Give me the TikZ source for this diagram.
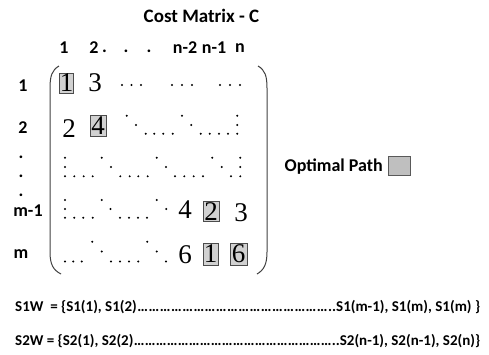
\documentclass[tikz,border=0pt]{standalone}
\usepackage{fontspec}
\setmainfont{Carlito}
\newfontfamily\tms{Liberation Serif}
\begin{document}
\begin{tikzpicture}[x=1pt,y=-1pt,
  lbl/.style={font=\fontsize{18}{20}\selectfont\bfseries, inner sep=0pt},
  seq/.style={font=\fontsize{15}{17}\selectfont\bfseries, inner sep=0pt},
  dig/.style={font=\fontsize{27}{28}\selectfont\tms, inner sep=0pt},
  pathbox/.style={dig, draw=black!70, fill=black!18, line width=0.8pt, minimum width=15pt, minimum height=21pt},
  paren/.style={draw=black!75, line width=1pt},
  dotmark/.style={fill=black}]
\useasboundingbox (0,0) rectangle (489,354);

% title
\node[lbl, font=\fontsize{19}{21}\selectfont\bfseries] (title) at (201.5,16) {Cost Matrix - C};

% column labels
\node[lbl] (c1) at (64,48) {1};
\node[lbl] (c2) at (94,48) {2};
\node[lbl] (cd1) at (104.5,51.5) {.};
\node[lbl] (cd2) at (126,51.5) {.};
\node[lbl] (cd3) at (149,51.5) {.};
\node[lbl] (cn2) at (185,48) {n-2};
\node[lbl] (cn1) at (214,48) {n-1};
\node[lbl] (cn) at (240,48) {n};

% row labels
\node[lbl] (r1) at (23,86) {1};
\node[lbl] (r2) at (23,127.5) {2};
\node[lbl] (rd1) at (21,157) {.};
\node[lbl] (rd2) at (21,176) {.};
\node[lbl] (rd3) at (21,195) {.};
\node[lbl] (rm1) at (28,211) {m-1};
\node[lbl] (rm) at (21,254) {m};

% matrix brackets
\draw[paren] (59,66) .. controls (52,70) and (50,76) .. (50,88) -- (50,252)
  .. controls (50,264) and (53,270) .. (61,274);
\draw[paren] (258,66) .. controls (265,70) and (267,76) .. (267,88) -- (267,252)
  .. controls (267,264) and (264,270) .. (257,274);

% entries on the optimal path
\node[pathbox, minimum width=13pt, minimum height=20pt] (e11) at (66.5,83) {1};
\node[pathbox, minimum width=16pt] (e22) at (98,125.5) {4};
\node[pathbox, minimum width=16pt, minimum height=20pt] (e4) at (211,211.7) {2};
\node[pathbox, minimum height=22pt] (e5a) at (210.5,254) {1};
\node[pathbox, minimum width=17pt, minimum height=22pt] (e5b) at (238.5,254) {6};

% other entries
\node[dig] (e12) at (95,83) {3};
\node[dig] (e21) at (69,128.5) {2};
\node[dig] (e43) at (185,210) {4};
\node[dig] (e45) at (241,212.5) {3};
\node[dig] (e53) at (185,254.5) {6};

% dot runs inside the matrix
\foreach \x in {122,131.5,141,172,182,192,220,230,240}
  \fill[dotmark] (\x,85) circle (1.1);
\foreach \x/\y in {126.7/115.7,136/125,145.7/133.7,154.3/133.7,163.3/133.7,172.7/133.7,
  182/115.7,191.3/125,200.7/133.7,209.7/133.7,219/133.7,228/133.7,237.3/133.7,237.3/125,237.3/115.7}
  \fill[dotmark] (\x,\y) circle (1.1);
\foreach \x/\y in {65/157.7,65/167,65/176.3,74.3/176.3,83.7/176.3,92.7/176.3,
  101.7/157.7,111/167,120.3/176.3,129.7/176.3,138.3/176.3,147.7/176.3,
  156.7/157.7,166/167,175/176.3,184.3/176.3,193.7/176.3,203/176.3,
  212.3/157.7,221.7/167,231/176.3,240.3/176.3,240.3/167,240.3/157.7}
  \fill[dotmark] (\x,\y) circle (1.1);
\foreach \x/\y in {65/200,65/209,65/217.7,74.3/217.7,83.3/217.7,92.7/217.7,
  101.7/200,110.5/209,120/217.7,129/217.7,138/217.7,147/217.7,
  156.7/200,166.3/209}
  \fill[dotmark] (\x,\y) circle (1.1);
\foreach \x/\y in {65/261.5,73.3/261.5,81.7/261.5,
  92.3/241.7,101.7/251.5,111/261.5,120/261.5,129/261.5,138.3/261.5,
  147.3/241.7,156.7/251.5,166/261.5}
  \fill[dotmark] (\x,\y) circle (1.1);

% legend
\node[lbl, anchor=east] (legtext) at (383,167) {Optimal Path};
\node[draw=black!65, fill=black!25, line width=0.8pt, minimum width=22pt, minimum height=19pt, inner sep=0pt] (legbox) at (399,165.5) {};

% warping sequences
\node[seq, anchor=west] (s1w) at (15,307)
  {\hbox to 465pt{S1W\ \ = \{S1(1), S1(2)\xleaders\hbox{…}\hfill..S1(m-1), S1(m), S1(m) \}}};
\node[seq, anchor=west] (s2w) at (15,341)
  {\hbox to 465pt{S2W = \{S2(1), S2(2)\xleaders\hbox{…}\hfill..S2(n-1), S2(n-1), S2(n)\}}};
\end{tikzpicture}
\end{document}
